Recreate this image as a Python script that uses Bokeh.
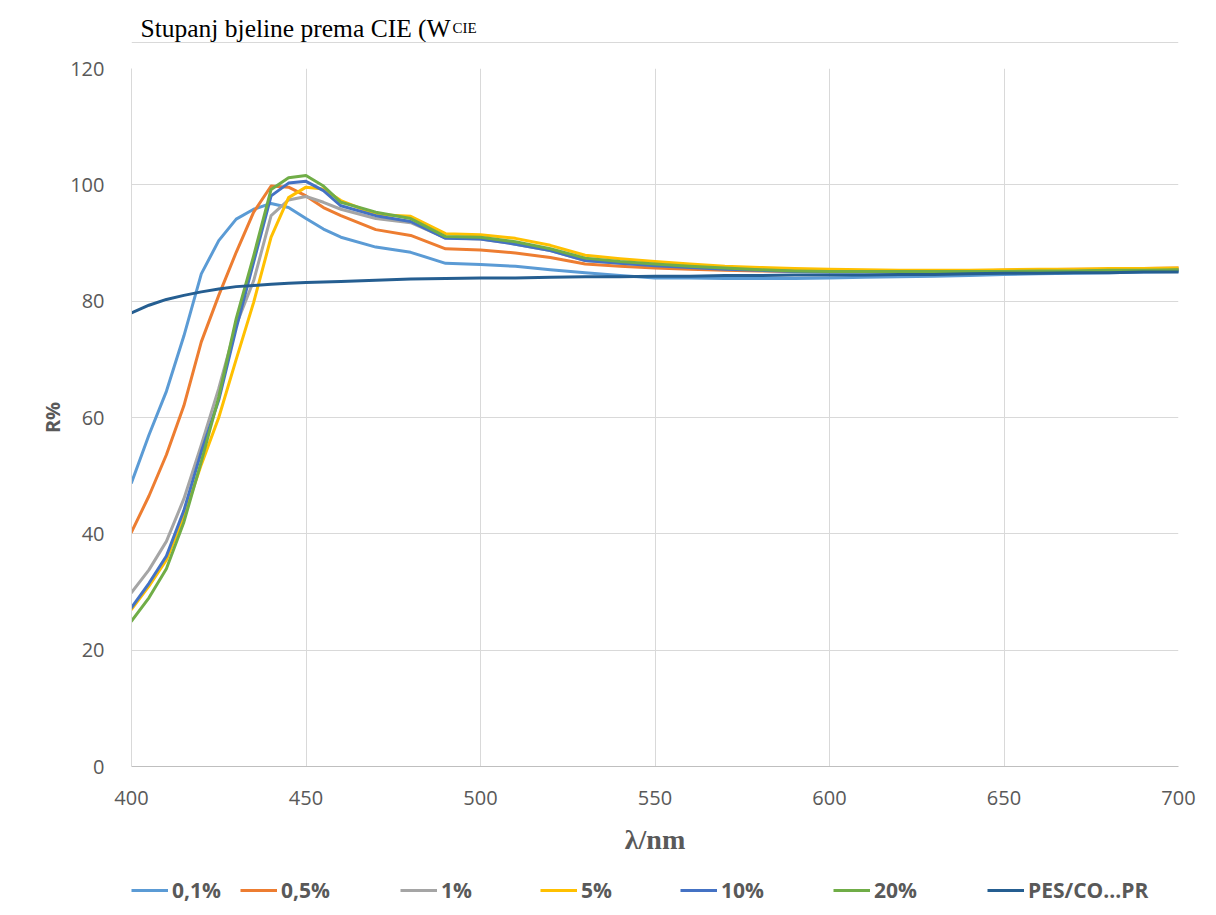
from bokeh.plotting import figure
from bokeh.layouts import column
from bokeh.models import Legend, LegendItem, Label, FixedTicker, Range1d, Span
from bokeh.embed import file_html
from bokeh.resources import INLINE

# wavelengths: 5 nm steps through the steep rise / peak, 10 nm afterwards
wavelength = [400, 405, 410, 415, 420, 425, 430, 435, 440, 445, 450, 455, 460,
              470, 480, 490, 500, 510, 520, 530, 540, 550, 560, 570, 580, 590,
              600, 610, 620, 630, 640, 650, 660, 670, 680, 690, 700]

s_01 = [48.8, 57.0, 64.5, 74.0, 84.7, 90.4, 94.1, 95.8, 96.8, 96.1, 94.2, 92.4, 91.0,
        89.3, 88.4, 86.5, 86.3, 86.0, 85.4, 84.9, 84.4, 84.0, 84.0, 83.9, 83.9, 83.9,
        84.0, 84.1, 84.2, 84.3, 84.4, 84.6, 84.7, 84.8, 84.9, 85.0, 85.1]
s_05 = [40.3, 46.5, 53.6, 62.0, 73.0, 81.0, 88.4, 95.3, 99.8, 99.6, 98.1, 96.1, 94.7,
        92.3, 91.3, 89.0, 88.8, 88.3, 87.5, 86.4, 86.0, 85.7, 85.5, 85.3, 85.2, 85.1,
        85.1, 85.1, 85.1, 85.1, 85.2, 85.3, 85.4, 85.5, 85.5, 85.6, 85.7]
s_1 = [29.9, 33.8, 38.7, 46.0, 55.3, 65.0, 75.9, 83.5, 94.7, 97.4, 98.0, 97.0, 95.8,
       94.2, 93.5, 90.9, 90.7, 89.8, 88.7, 87.0, 86.5, 86.2, 85.9, 85.6, 85.4, 85.3,
       85.2, 85.2, 85.2, 85.2, 85.2, 85.2, 85.3, 85.3, 85.3, 85.4, 85.4]
s_5 = [27.0, 31.0, 35.5, 43.0, 51.9, 60.0, 70.0, 79.8, 91.0, 97.8, 99.6, 99.3, 97.3,
       94.9, 94.6, 91.6, 91.4, 90.8, 89.6, 87.9, 87.3, 86.8, 86.4, 86.0, 85.8, 85.6,
       85.5, 85.4, 85.3, 85.3, 85.3, 85.4, 85.5, 85.5, 85.6, 85.6, 85.7]
s_10 = [27.3, 31.5, 36.2, 44.0, 54.1, 63.0, 75.3, 86.7, 98.1, 100.3, 100.6, 99.0, 96.4,
        94.7, 93.7, 90.8, 90.7, 89.8, 88.7, 87.0, 86.5, 86.1, 85.8, 85.5, 85.3, 85.1,
        85.0, 85.0, 85.0, 85.0, 85.0, 85.0, 85.1, 85.1, 85.2, 85.2, 85.3]
s_20 = [25.0, 29.0, 34.0, 42.0, 52.4, 63.5, 77.0, 87.8, 99.2, 101.2, 101.6, 99.8, 97.0,
        95.3, 94.2, 91.1, 91.0, 90.2, 89.0, 87.4, 86.8, 86.4, 86.0, 85.7, 85.4, 85.2,
        85.1, 85.1, 85.1, 85.1, 85.1, 85.1, 85.2, 85.2, 85.3, 85.3, 85.4]
s_pes = [78.0, 79.3, 80.3, 81.0, 81.6, 82.1, 82.5, 82.7, 82.9, 83.1, 83.2, 83.3, 83.4,
         83.6, 83.8, 83.9, 84.0, 84.0, 84.1, 84.2, 84.2, 84.3, 84.3, 84.4, 84.4, 84.5,
         84.5, 84.5, 84.6, 84.6, 84.7, 84.8, 84.8, 84.9, 84.9, 85.0, 85.0]

series_names = ["0,1%", "0,5%", "1%", "5%", "10%", "20%", "PES/CO...PR"]
series_values = [s_01, s_05, s_1, s_5, s_10, s_20, s_pes]
series_colors = ["#5B9BD5", "#ED7D31", "#A5A5A5", "#FFC000", "#4472C4", "#70AD47", "#255E91"]

x_ticks = [400, 450, 500, 550, 600, 650, 700]
y_ticks = [0, 20, 40, 60, 80, 100, 120]

title_main = "Stupanj bjeline prema CIE (W"
title_sub = "CIE"

W = 1216
HT = 43            # title strip height (page px)
HP = 832           # main figure height
HL = 30            # legend strip height
FL, FT, FR, FB = 131, 68, 1178, 766   # frame edges in page pixels
legend_x = [80, 240, 400, 540, 680, 833, 987]   # page x of each legend entry
grid_col = "#D9D9D9"
text_col = "#595959"

# ---- title strip (frame aligned with the main frame horizontally)
t = figure(width=W, height=HT, output_backend="svg", toolbar_location=None,
           x_range=Range1d(FL, FR), y_range=Range1d(HT, 0),
           x_axis_location=None, y_axis_location=None, min_border=0)
t.outline_line_color = None
t.xgrid.visible = False
t.ygrid.visible = False
t.add_layout(Label(x=140, y=27.5, text=title_main, text_font="Liberation Serif",
                   text_font_size="25.5px", text_color="black", text_baseline="alphabetic"))
t.add_layout(Label(x=452, y=27.5, text=title_sub, text_font="Liberation Serif",
                   text_font_size="15px", text_color="black", text_baseline="alphabetic"))
t.add_layout(Span(location=42, dimension="width", line_color=grid_col, line_width=1))

# ---- main chart
p = figure(width=W, height=HP, output_backend="svg", toolbar_location=None,
           x_range=Range1d(400, 700), y_range=Range1d(0, 120),
           min_border_left=FL, min_border_right=W - FR, min_border_top=FT - HT,
           min_border_bottom=HP - (FB - HT))
p.outline_line_color = None

p.xgrid.ticker = FixedTicker(ticks=x_ticks)
p.ygrid.ticker = FixedTicker(ticks=y_ticks)
p.xgrid.grid_line_color = grid_col
p.ygrid.grid_line_color = grid_col

for ax in (p.xaxis[0], p.yaxis[0]):
    ax.major_tick_line_color = None
    ax.minor_tick_line_color = None
    ax.major_label_text_font = "Open Sans"
    ax.major_label_text_font_size = "20px"
    ax.major_label_text_color = text_col
    ax.axis_label_text_color = text_col

p.xaxis.ticker = FixedTicker(ticks=x_ticks)
p.yaxis.ticker = FixedTicker(ticks=y_ticks)
p.xaxis.axis_line_color = "#BFBFBF"
p.yaxis.axis_line_color = grid_col
p.xaxis.major_label_standoff = 18
p.yaxis.major_label_standoff = 21

p.xaxis.axis_label = "λ/nm"
p.xaxis.axis_label_text_font = "Liberation Serif"
p.xaxis.axis_label_text_font_style = "bold"
p.xaxis.axis_label_text_font_size = "28px"
p.xaxis.axis_label_standoff = 16

p.yaxis.axis_label = "R%"
p.yaxis.axis_label_text_font = "Open Sans"
p.yaxis.axis_label_text_font_style = "bold"
p.yaxis.axis_label_text_font_size = "20px"
p.yaxis.axis_label_standoff = 1

for vals, col in zip(series_values, series_colors):
    p.line(wavelength, vals, line_color=col, line_width=3, line_join="round", line_cap="round")

# ---- legend strip (same series, drawn off-range so only legend swatches show)
q = figure(width=W, height=HL, output_backend="svg", toolbar_location=None,
           x_range=Range1d(0, 1), y_range=Range1d(1000, 1001),
           x_axis_location=None, y_axis_location=None, min_border=0)
q.outline_line_color = None
q.xgrid.visible = False
q.ygrid.visible = False

for name, vals, col, lx in zip(series_names, series_values, series_colors, legend_x):
    r = q.line(wavelength, vals, line_color=col, line_width=3)
    q.add_layout(Legend(items=[LegendItem(label=name, renderers=[r])],
                        orientation="horizontal", location="left", margin=max(lx - FL, 0),
                        glyph_width=37, glyph_height=20, label_standoff=4,
                        padding=0, border_line_color=None, background_fill_alpha=0,
                        label_text_font="Open Sans", label_text_font_style="bold",
                        label_text_font_size="21px", label_text_color=text_col), "center")

layout = column(t, p, q, spacing=0)
open("out.html", "w").write(file_html(layout, INLINE))
